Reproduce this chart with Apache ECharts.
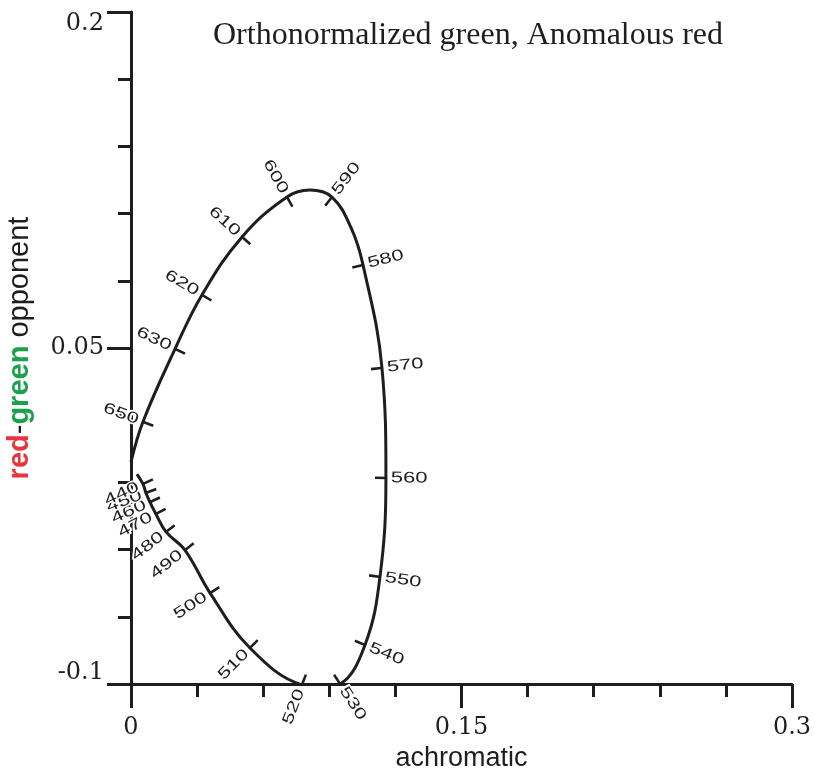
<!DOCTYPE html>
<html>
<head>
<meta charset="utf-8">
<script src="https://cdn.jsdelivr.net/npm/echarts@6/dist/echarts.min.js"></script>
<style>
  html, body { margin: 0; padding: 0; background: #fff; }
  #main { width: 815px; height: 769px; }
</style>
</head>
<body>
<div id="main"></div>
<script>
// spectral locus, in drawing order (700 nm end -> 400 nm end)
var wavelengths = [700, 650, 630, 620, 610, 600, 595, 590, 585, 580, 570, 560, 550, 540, 530, 525, 520, 510, 500, 490, 480, 470, 460, 450, 440, 400];
var achromatic = [0.0000, 0.0054, 0.0200, 0.0322, 0.0504, 0.0708, 0.0812, 0.0912, 0.0999, 0.1053, 0.1139, 0.1157, 0.1130, 0.1062, 0.0949, 0.0862, 0.0776, 0.0540, 0.0359, 0.0245, 0.0159, 0.0113, 0.0086, 0.0068, 0.0054, 0.0027];
var redGreen = [-0.0009, 0.0170, 0.0496, 0.0737, 0.0996, 0.1174, 0.1205, 0.1174, 0.1036, 0.0871, 0.0411, -0.0080, -0.0522, -0.0826, -0.1000, -0.1013, -0.1004, -0.0839, -0.0594, -0.0402, -0.0321, -0.0241, -0.0188, -0.0147, -0.0107, -0.0063];
// wavelengths with a tick + label on the curve
var markedWavelengths = [650, 630, 620, 610, 600, 590, 580, 570, 560, 550, 540, 530, 520, 510, 500, 490, 480, 470, 460, 450, 440];

var xTicks = [0, 0.03, 0.06, 0.09, 0.12, 0.15, 0.18, 0.21, 0.24, 0.27, 0.3];
var xLabels = [0, 0.15, 0.3];
var yTicks = [-0.1, -0.07, -0.04, -0.01, 0.02, 0.05, 0.08, 0.11, 0.14, 0.17, 0.2];
var yLabels = [-0.1, 0.05, 0.2];

var INK = '#1e1e1e';
var sansFont = '"Liberation Sans", Arial, sans-serif';
var serifFont = '"DejaVu Serif", serif';

var locus = [];
for (var i = 0; i < wavelengths.length; i++) {
    locus.push([achromatic[i], redGreen[i]]);
}
var marks = markedWavelengths.map(function (wl) {
    var k = wavelengths.indexOf(wl);
    return [achromatic[k], redGreen[k], wl];
});

function unit(dx, dy) {
    var l = Math.sqrt(dx * dx + dy * dy) || 1;
    return [dx / l, dy / l];
}

function renderMark(params, api) {
    var wl = markedWavelengths[params.dataIndex];
    var k = wavelengths.indexOf(wl);
    var n = wavelengths.length;
    var p = api.coord([achromatic[k], redGreen[k]]);
    var a = api.coord(locus[Math.max(k - 1, 0)]);
    var b = api.coord(locus[Math.min(k + 1, n - 1)]);
    // tangent = bisector of the two neighbouring chords
    var u1 = unit(p[0] - a[0], p[1] - a[1]);
    var u2 = unit(b[0] - p[0], b[1] - p[1]);
    var t = unit(u1[0] + u2[0], u1[1] + u2[1]);
    // outward normal (curve runs clockwise on screen)
    var ox = t[1], oy = -t[0];
    var readOut = ox >= 0;
    var ang = readOut ? Math.atan2(-oy, ox) : Math.atan2(oy, -ox);
    return {
        type: 'group',
        children: [{
            type: 'line',
            shape: {x1: p[0] + ox, y1: p[1] + oy, x2: p[0] - ox * 11, y2: p[1] - oy * 11},
            style: {stroke: INK, lineWidth: 2.6}
        }, {
            type: 'text',
            x: p[0] + ox * 5,
            y: p[1] + oy * 5,
            rotation: ang,
            scaleX: 1.42,
            z2: 10,
            style: {
                text: String(wl),
                x: 0, y: 0,
                textAlign: readOut ? 'left' : 'right',
                textVerticalAlign: 'middle',
                align: readOut ? 'left' : 'right',
                verticalAlign: 'middle',
                font: '15.5px ' + sansFont,
                fill: INK,
                stroke: '#fff',
                lineWidth: 3,
                strokeFirst: true
            }
        }]
    };
}

var myChart = echarts.init(document.getElementById('main'));
var option = {
    backgroundColor: '#fff',
    animation: false,
    title: {
        text: 'Orthonormalized green, Anomalous red',
        left: 208,
        top: 15,
        textStyle: {fontFamily: '"Liberation Serif", serif', fontSize: 32, fontWeight: 'normal', color: INK}
    },
    grid: {left: 131, right: 23, top: 12, bottom: 85, outerBoundsMode: 'none', containLabel: false},
    xAxis: [{
        type: 'value', min: 0, max: 0.3,
        position: 'bottom',
        name: 'achromatic', nameLocation: 'middle', nameGap: 61,
        nameTextStyle: {fontFamily: sansFont, fontSize: 27, color: INK},
        axisLine: {show: true, onZero: false, lineStyle: {color: INK, width: 3}},
        axisTick: {show: true, length: 13, lineStyle: {color: INK, width: 3}, customValues: xTicks},
        axisLabel: {show: false},
        splitLine: {show: false}
    }, {
        type: 'value', min: 0, max: 0.3,
        position: 'bottom',
        axisLine: {show: false, onZero: false},
        axisTick: {show: true, length: 24, lineStyle: {color: INK, width: 3}, customValues: xLabels},
        axisLabel: {
            show: true, customValues: xLabels, margin: 32,
            fontFamily: serifFont, fontSize: 24, color: INK,
            formatter: function (v) { return String(v); }
        },
        splitLine: {show: false}
    }],
    yAxis: [{
        type: 'value', min: -0.1, max: 0.2,
        position: 'left',
        name: '{r|red}-{g|green} opponent', nameLocation: 'middle', nameGap: 97, nameRotate: 90,
        nameTextStyle: {
            fontFamily: sansFont, fontSize: 29, color: INK,
            rich: {
                r: {color: '#e8343c', fontWeight: 'bold', fontSize: 29, fontFamily: sansFont},
                g: {color: '#1ca04c', fontWeight: 'bold', fontSize: 29, fontFamily: sansFont}
            }
        },
        axisLine: {show: true, onZero: false, lineStyle: {color: INK, width: 3}},
        axisTick: {show: true, length: 13, lineStyle: {color: INK, width: 3}, customValues: yTicks},
        axisLabel: {show: false},
        splitLine: {show: false}
    }, {
        type: 'value', min: -0.1, max: 0.2,
        position: 'left',
        axisLine: {show: false, onZero: false},
        axisTick: {show: true, length: 24, lineStyle: {color: INK, width: 3}, customValues: yLabels},
        axisLabel: {
            show: true, customValues: yLabels, margin: 27,
            fontFamily: serifFont, fontSize: 24, color: INK,
            formatter: function (v) {
                if (v >= 0.2) return '{lo|0.2}';
                if (v <= -0.1) return '{hi|-0.1}';
                return String(v);
            },
            rich: {
                lo: {fontFamily: serifFont, fontSize: 24, color: INK, padding: [24, 0, 0, 0]},
                hi: {fontFamily: serifFont, fontSize: 24, color: INK, padding: [0, 0, 22, 0]}
            }
        },
        splitLine: {show: false}
    }],
    series: [{
        type: 'line',
        data: locus,
        xAxisIndex: 0, yAxisIndex: 0,
        showSymbol: false,
        smooth: 0.4,
        clip: true,
        lineStyle: {color: INK, width: 3},
        z: 3
    }, {
        type: 'custom',
        data: marks,
        xAxisIndex: 0, yAxisIndex: 0,
        encode: {x: 0, y: 1},
        renderItem: renderMark,
        z: 5
    }]
};
myChart.setOption(option);
</script>
</body>
</html>
